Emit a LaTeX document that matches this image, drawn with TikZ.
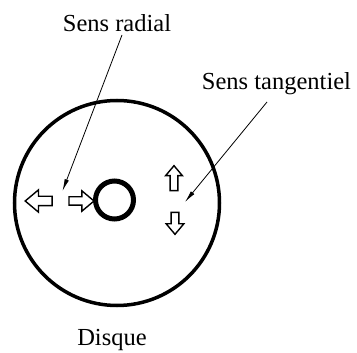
\documentclass[tikz,border=0pt]{standalone}
\usepackage{fontspec}
\setmainfont{Liberation Serif}
\usetikzlibrary{arrows.meta,shapes.arrows}
\begin{document}
\begin{tikzpicture}[x=1pt, y=-1pt,
		texte/.style={font=\fontsize{24.5}{28}\selectfont, inner sep=0pt, anchor=base},
		fleche/.style={draw, line width=1.4pt, single arrow, inner xsep=0pt, minimum width=0pt, single arrow tip angle=80},
		renvoi/.style={line width=0.8pt, -{Latex[length=12pt,width=4.5pt]}}]
			\useasboundingbox (0,0) rectangle (357,353);
			%Disque et trou central
			\node[draw, circle, line width=3.5pt, minimum size=205pt, inner sep=0pt] (D) at (117,203) {};
			\node[draw, circle, line width=5pt, minimum size=38pt, inner sep=0pt] (T) at (114.5,200) {};
			
			%Textes
			\node[texte] (radial) at (117,32) {Sens radial};
			\node[texte] (tangentiel) at (276.5,90) {Sens tangentiel};
			\node[texte] (disque) at (112,345) {Disque};
			
			%Flèches du sens radial
			\node[fleche, rotate=180, minimum height=27pt, inner ysep=4pt, single arrow head extend=6.5pt] (RG) at (41.5,201) {};
			\node[fleche, minimum height=25pt, inner ysep=3.5pt, single arrow head extend=6pt] (RD) at (79,201) {};
			
			%Flèches du sens tangentiel
			\node[fleche, rotate=90, minimum height=25pt, inner ysep=3.2pt, single arrow head extend=4.5pt] (TH) at (174,180.5) {};
			\node[fleche, rotate=-90, minimum height=22pt, inner ysep=3.2pt, single arrow head extend=5pt] (TB) at (175,221) {};
			
			%Renvois
			\coordinate (pr) at (62.5,191);
			\coordinate (pt) at (185,202);
			\draw[renvoi] ([xshift=5pt,yshift=-3pt]radial.base) -- (pr);
			\draw[renvoi] ([xshift=-9.5pt,yshift=-12pt]tangentiel.base) -- (pt);
		\end{tikzpicture}
\end{document}
